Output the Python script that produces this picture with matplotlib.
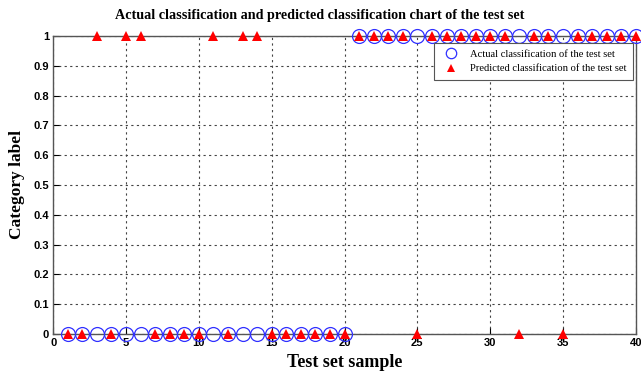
import numpy as np
import matplotlib.pyplot as plt

samples = np.arange(1, 41)
actual = [0] * 20 + [1] * 20
predicted = [0, 0, 1, 0, 1, 1, 0, 0, 0, 0,
             1, 0, 1, 1, 0, 0, 0, 0, 0, 0,
             1, 1, 1, 1, 0, 1, 1, 1, 1, 1,
             1, 0, 1, 1, 0, 1, 1, 1, 1, 1]

x_ticks = np.arange(0, 41, 5)
y_ticks = np.round(np.arange(0, 1.01, 0.1), 1)
y_labels = ["0", "0.1", "0.2", "0.3", "0.4", "0.5", "0.6", "0.7", "0.8", "0.9", "1"]

fig = plt.figure(figsize=(6.41, 3.76), dpi=100)
ax = fig.add_axes([0.083, 0.112, 0.909, 0.792])

ax.plot(samples, actual, "o", mfc="none", mec="#3030ff", ms=10, mew=0.9,
        clip_on=False, zorder=3, label="Actual classification of the test set")
ax.plot(samples, predicted, "^", color="red", ms=7, mew=0,
        clip_on=False, zorder=4, label="Predicted classification of the test set")

ax.set_xlim(0, 40)
ax.set_ylim(0, 1)
ax.set_xticks(x_ticks)
ax.set_yticks(y_ticks)
ax.set_yticklabels(y_labels)
ax.tick_params(direction="in", length=4, width=0.8, labelsize=8, pad=3)
for lab in ax.get_xticklabels() + ax.get_yticklabels():
    lab.set_fontfamily("Liberation Sans")
    lab.set_fontweight("bold")

ax.grid(True, color="#444444", linestyle=(0, (2, 3)), linewidth=0.8)
for s in ax.spines.values():
    s.set_color("#555555")
    s.set_linewidth(1.0)

ax.set_title("Actual classification and predicted classification chart of the test set",
             fontfamily="Liberation Serif", fontweight="bold", fontsize=10.2, pad=12,
             x=0.458)
ax.set_xlabel("Test set sample", fontfamily="Liberation Serif", fontweight="bold",
              fontsize=13, labelpad=4)
ax.set_ylabel("Category label", fontfamily="Liberation Serif", fontweight="bold",
              fontsize=12.5, labelpad=6)

leg = ax.legend(loc="upper right", bbox_to_anchor=(0.995, 0.977), borderaxespad=0,
                prop={"family": "Liberation Serif", "size": 7.6}, markerscale=0.75,
                fancybox=False, edgecolor="#555555", framealpha=1,
                handletextpad=0.8, borderpad=0.6, labelspacing=0.5)
leg.get_frame().set_linewidth(0.8)

fig.savefig("out.png", dpi=100)
